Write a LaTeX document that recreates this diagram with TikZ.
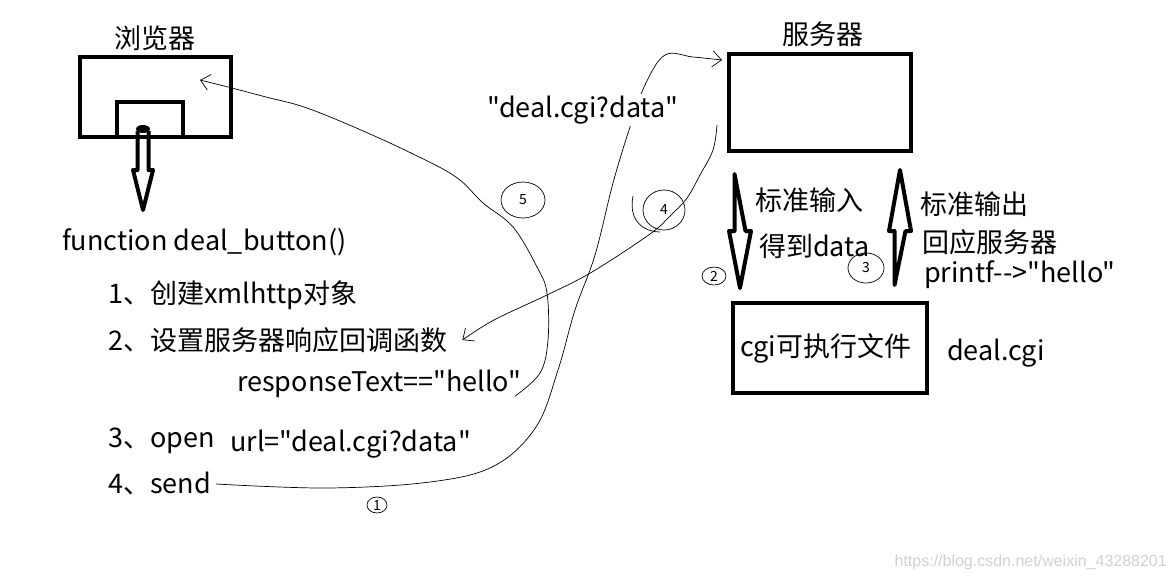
\documentclass[tikz,border=0pt]{standalone}
\usepackage{fontspec}
\setmainfont{Noto Sans CJK SC}[Ligatures=TeXOff]
\newfontfamily\wmfont{Liberation Sans}
\usetikzlibrary{arrows.meta}
\tikzset{
	box/.style={draw,line width=4pt,inner sep=0pt},
	txt/.style={anchor=west,inner sep=0pt,font=\fontsize{27}{31}\selectfont},
	hand/.style={line width=0.7pt,line join=round},
	handarrow/.style={hand,-{Straight Barb[length=9pt,width=16pt]}},
	hollow/.style={line width=4pt,line join=round},
	num/.style={inner sep=0pt,font=\fontsize{14}{15}\selectfont}
}
\begin{document}
\begin{tikzpicture}[x=1pt,y=-1pt]
	\useasboundingbox (0,0) rectangle (1173,582);
	\node[box,minimum width=151pt,minimum height=80pt] (browser) at (155.5,97) {};
	\node[box,minimum width=66pt,minimum height=35pt] (button) at (150,119.5) {};
	\node[txt,anchor=center] (browserlabel) at (155,38) {浏览器};
	\fill (143,129) ellipse [x radius=7, y radius=4];
	\draw[hollow] (137.5,131) -- (137.5,170) -- (133,170) -- (143,210) -- (153,170) -- (148.5,170) -- (148.5,131);
	\node[txt] (func) at (62,242) {function deal\_button()};
	\node[txt] (step1) at (108,295) {1、创建xmlhttp对象};
	\node[txt] (step2) at (108,340) {2、设置服务器响应回调函数};
	\node[txt] (resp) at (237,384) {responseText=="hello"};
	\node[txt] (step3) at (108,441) {3、open};
	\node[txt] (url) at (230,444) {url="deal.cgi?data"};
	\node[txt] (send) at (108,484) {4、send};
	\node[box,minimum width=182pt,minimum height=97pt] (server) at (820,102.5) {};
	\node[txt,anchor=center] (serverlabel) at (823,34) {服务器};
	\node[box,minimum width=194pt,minimum height=90pt,font=\fontsize{27}{31}\selectfont,text width=180pt] (cgi) at (830,348) {cgi可执行文件};
	\node[txt] (cginame) at (947,353) {deal.cgi};
	\draw[hollow] (734.5,174) -- (734.5,231) -- (729,231) -- (740,288) -- (751,231) -- (745.5,231) -- cycle;
	\draw[hollow] (894.5,285) -- (894.5,231) -- (889,231) -- (900,170) -- (911,231) -- (905.5,231) -- cycle;
	\node[txt] (stdin) at (755,200) {标准输入};
	\node[txt] (getdata) at (759,246) {得到data};
	\node[txt] (stdout) at (920,204) {标准输出};
	\node[txt] (reply) at (922,242) {回应服务器};
	\node[txt] (printf) at (924,275) {printf-->"hello"};
	\coordinate (serverin) at (722,60);
	\coordinate (serverout) at (717,125);
	\coordinate (browserin) at (200,80);
	\draw[handarrow] plot[smooth,tension=0.6] coordinates {([xshift=5pt]send.east) (327,488) (430,482) (494,466) (536,427) (558,370) (575,310) (595,255) (613,183) (630,127) (645,85) (665,55) (693,57) (serverin)};
	\draw[handarrow] plot[smooth,tension=0.6] coordinates {([xshift=-6pt,yshift=2pt]resp.south east) (540,373) (548,340) (547,293) (537,267) (513,227) (483,203) (456,177) (411,153) (354,127) (304,107) (266,97) (228,87) (browserin)};
	\draw[handarrow] plot[smooth,tension=0.6] coordinates {(serverout) (713,150) (700,175) (687,198) (670,216) (650,234) (592,272) (547,295) (494,320) ([xshift=15pt]step2.east)};
	\node[txt,fill=white,inner sep=2pt] (query) at (485,110) {"deal.cgi?data"};
	\node[num] (n1) at (377,505) {1};
	\draw[hand] (n1) ellipse [x radius=10, y radius=8];
	\node[num] (n2) at (714,276) {2};
	\draw[hand] (n2) ellipse [x radius=12, y radius=9];
	\node[num] (n3) at (866,268) {3};
	\draw[hand] (n3) ellipse [x radius=18, y radius=15];
	\node[num] (n4) at (664,210) {4};
	\draw[hand] (n4) ellipse [x radius=21, y radius=20];
	\draw[hand] (633,196) .. controls (628,222) and (645,232) .. (660,232);
	\node[num] (n5) at (523,200) {5};
	\draw[hand] (n5) ellipse [x radius=22, y radius=18];
	\node[anchor=east,inner sep=0pt,text=black!18,font=\wmfont\fontsize{16}{18}\selectfont] (mark1) at (1167,562) {https://blog.csdn.net/weixin\_43288201};
\end{tikzpicture}
\end{document}
